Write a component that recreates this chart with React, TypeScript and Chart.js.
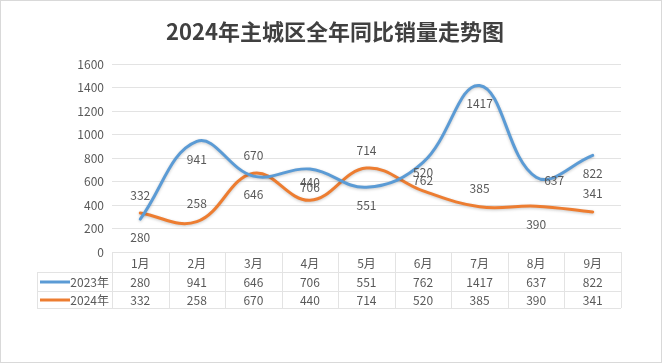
import React, { useEffect, useRef } from "react";
import { Chart, registerables } from "chart.js";

Chart.register(...registerables);

const title = "2024年主城区全年同比销量走势图";
const categories = ["1月", "2月", "3月", "4月", "5月", "6月", "7月", "8月", "9月"];
const seriesNames = ["2023年", "2024年"];
const sales2023 = [280, 941, 646, 706, 551, 762, 1417, 637, 822];
const sales2024 = [332, 258, 670, 440, 714, 520, 385, 390, 341];
const labelPos2023 = ["below", "below", "below", "below", "below", "below", "below", "right", "below"];
const labelPos2024 = ["above", "above", "above", "above", "above", "above", "above", "below", "above"];
const yMax = 1600;
const yStep = 200;

const FONT = '"Noto Sans CJK SC", "Noto Sans", sans-serif';
const TEXT = "#595959";
const GRID = "#E3E3E3";
const BLUE = "#5B9BD5";
const ORANGE = "#ED7D31";

export default function App() {
  const ref = useRef<HTMLCanvasElement>(null);
  useEffect(() => {
    document.body.style.margin = "0";
    const canvas = ref.current!;
    const positions = [labelPos2023, labelPos2024];

    const bgPlugin = {
      id: "bg",
      beforeDraw(chart: any) {
        const ctx = chart.ctx;
        ctx.save();
        ctx.fillStyle = "#ffffff";
        ctx.fillRect(0, 0, chart.width, chart.height);
        ctx.strokeStyle = "#D9D9D9";
        ctx.lineWidth = 1;
        ctx.strokeRect(0.5, 0.5, 661, 362);
        ctx.fillStyle = "#404040";
        ctx.font = `bold 22px ${FONT}`;
        ctx.textAlign = "center";
        ctx.textBaseline = "middle";
        ctx.fillText(title, 335, 32);
        ctx.restore();
      },
    };

    const shadowPlugin = {
      id: "shadow",
      beforeDatasetDraw(chart: any) {
        const ctx = chart.ctx;
        ctx.save();
        ctx.shadowColor = "rgba(0,0,0,0.22)";
        ctx.shadowBlur = 3;
        ctx.shadowOffsetY = 1;
      },
      afterDatasetDraw(chart: any) {
        chart.ctx.restore();
      },
    };

    const labelsPlugin = {
      id: "valueLabels",
      afterDatasetsDraw(chart: any) {
        const ctx = chart.ctx;
        ctx.save();
        ctx.font = `12px ${FONT}`;
        ctx.fillStyle = TEXT;
        ctx.textBaseline = "middle";
        chart.data.datasets.forEach((ds: any, di: number) => {
          const meta = chart.getDatasetMeta(di);
          meta.data.forEach((pt: any, i: number) => {
            const pos = positions[di][i];
            const text = String(ds.data[i]);
            if (pos === "right") {
              ctx.textAlign = "left";
              ctx.fillText(text, pt.x + 8, pt.y + 3);
            } else {
              ctx.textAlign = "center";
              ctx.fillText(text, pt.x, pt.y + (pos === "below" ? 18 : -18));
            }
          });
        });
        ctx.restore();
      },
    };

    const tablePlugin = {
      id: "dataTable",
      afterDraw(chart: any) {
        const ctx = chart.ctx;
        const xs = chart.scales.x;
        const area = chart.chartArea;
        const n = categories.length;
        const bw = (area.right - area.left) / n;
        const top = area.bottom;
        const r1 = top + 20.5;
        const r2 = top + 39.5;
        const bottom = top + 56;
        const keyLeft = 37;
        ctx.save();
        ctx.strokeStyle = GRID;
        ctx.lineWidth = 1;
        ctx.beginPath();
        ctx.moveTo(area.left, top + 0.5);
        ctx.lineTo(area.right, top + 0.5);
        [r1, r2, bottom + 0.5].forEach((y) => {
          ctx.moveTo(keyLeft, y);
          ctx.lineTo(area.right, y);
        });
        for (let i = 0; i <= n; i++) {
          const x = Math.round(area.left + i * bw) + 0.5;
          ctx.moveTo(x, top);
          ctx.lineTo(x, bottom);
        }
        ctx.moveTo(keyLeft + 0.5, r1);
        ctx.lineTo(keyLeft + 0.5, bottom);
        ctx.stroke();

        ctx.font = `12px ${FONT}`;
        ctx.fillStyle = TEXT;
        ctx.textAlign = "center";
        ctx.textBaseline = "middle";
        categories.forEach((c, i) => {
          const x = xs.getPixelForValue(i);
          ctx.fillText(c, x, top + 11);
        });
        const rowsY = [top + 30, top + 48];
        const colors = [BLUE, ORANGE];
        chart.data.datasets.forEach((ds: any, di: number) => {
          const y = rowsY[di];
          ds.data.forEach((v: number, i: number) => {
            ctx.fillText(String(v), xs.getPixelForValue(i), y);
          });
          ctx.strokeStyle = colors[di];
          ctx.lineWidth = 3;
          ctx.beginPath();
          ctx.moveTo(40, y);
          ctx.lineTo(70, y);
          ctx.stroke();
          ctx.textAlign = "right";
          ctx.fillText(seriesNames[di], 109, y);
          ctx.textAlign = "center";
        });
        ctx.restore();
      },
    };

    const chart = new Chart(canvas, {
      type: "line",
      data: {
        labels: categories,
        datasets: [
          {
            label: seriesNames[0],
            data: sales2023,
            borderColor: BLUE,
            borderWidth: 3,
            pointRadius: 0,
            tension: 0.4,
            borderCapStyle: "round",
            fill: false,
          },
          {
            label: seriesNames[1],
            data: sales2024,
            borderColor: ORANGE,
            borderWidth: 3,
            pointRadius: 0,
            tension: 0.4,
            borderCapStyle: "round",
            fill: false,
          },
        ],
      },
      options: {
        responsive: false,
        animation: false,
        layout: { padding: { left: 0, right: 42, top: 64, bottom: 112 } },
        plugins: {
          legend: { display: false },
          title: { display: false },
          tooltip: { enabled: false },
        },
        scales: {
          x: {
            display: false,
            offset: true,
          },
          y: {
            min: 0,
            max: yMax,
            border: { display: false },
            grid: { color: GRID, lineWidth: 1, drawTicks: false },
            ticks: {
              stepSize: yStep,
              padding: 8,
              color: TEXT,
              font: { family: FONT, size: 12 },
              callback: (v: any) => String(v),
            },
            afterFit(scale: any) {
              scale.width = 112;
            },
          },
        },
      },
      plugins: [bgPlugin, shadowPlugin, labelsPlugin, tablePlugin],
    } as any);
    return () => chart.destroy();
  }, []);
  return <canvas ref={ref} width={663} height={364} style={{ display: "block" }} />;
}
